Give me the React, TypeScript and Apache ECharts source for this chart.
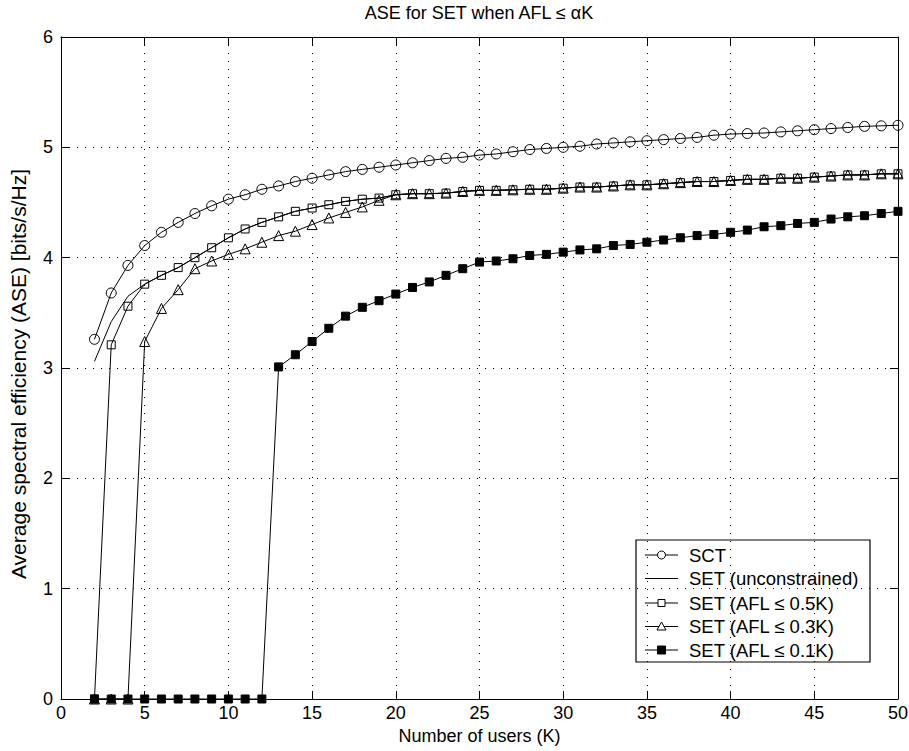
import React, { useEffect, useRef } from 'react';
import * as echarts from 'echarts';

const K = [2, 3, 4, 5, 6, 7, 8, 9, 10, 11, 12, 13, 14, 15, 16, 17, 18, 19, 20, 21, 22, 23, 24, 25, 26, 27, 28, 29, 30, 31, 32, 33, 34, 35, 36, 37, 38, 39, 40, 41, 42, 43, 44, 45, 46, 47, 48, 49, 50];

const sct = [3.26, 3.68, 3.93, 4.11, 4.23, 4.32, 4.40, 4.47, 4.53, 4.57, 4.62, 4.65, 4.69, 4.72, 4.75, 4.78, 4.80, 4.82, 4.84, 4.86, 4.88, 4.90, 4.91, 4.93, 4.94, 4.96, 4.98, 4.99, 5.00, 5.01, 5.03, 5.04, 5.05, 5.06, 5.07, 5.08, 5.09, 5.11, 5.12, 5.125, 5.13, 5.14, 5.15, 5.16, 5.17, 5.18, 5.19, 5.195, 5.20];

const setUnconstrained = [3.06, 3.42, 3.65, 3.76, 3.84, 3.91, 4.00, 4.09, 4.18, 4.26, 4.32, 4.37, 4.42, 4.45, 4.48, 4.51, 4.53, 4.54, 4.57, 4.58, 4.58, 4.585, 4.60, 4.61, 4.61, 4.615, 4.62, 4.62, 4.63, 4.64, 4.64, 4.65, 4.66, 4.66, 4.67, 4.68, 4.69, 4.69, 4.70, 4.71, 4.71, 4.72, 4.72, 4.73, 4.74, 4.75, 4.75, 4.76, 4.76];

const set05 = [0, 3.21, 3.56, 3.76, 3.84, 3.91, 4.00, 4.09, 4.18, 4.26, 4.32, 4.37, 4.42, 4.45, 4.48, 4.51, 4.53, 4.54, 4.57, 4.58, 4.58, 4.585, 4.60, 4.61, 4.61, 4.615, 4.62, 4.62, 4.63, 4.64, 4.64, 4.65, 4.66, 4.66, 4.67, 4.68, 4.69, 4.69, 4.70, 4.71, 4.71, 4.72, 4.72, 4.73, 4.74, 4.75, 4.75, 4.76, 4.76];

const set03 = [0, 0, 0, 3.24, 3.54, 3.71, 3.90, 3.97, 4.03, 4.08, 4.14, 4.20, 4.24, 4.30, 4.36, 4.41, 4.46, 4.52, 4.57, 4.58, 4.58, 4.585, 4.60, 4.61, 4.61, 4.615, 4.62, 4.62, 4.63, 4.64, 4.64, 4.65, 4.66, 4.66, 4.67, 4.68, 4.69, 4.69, 4.70, 4.71, 4.71, 4.72, 4.72, 4.73, 4.74, 4.75, 4.75, 4.76, 4.76];

const set01 = [0, 0, 0, 0, 0, 0, 0, 0, 0, 0, 0, 3.01, 3.12, 3.24, 3.36, 3.47, 3.55, 3.61, 3.67, 3.73, 3.78, 3.84, 3.90, 3.96, 3.97, 3.99, 4.02, 4.03, 4.05, 4.07, 4.08, 4.11, 4.12, 4.14, 4.16, 4.18, 4.20, 4.21, 4.23, 4.25, 4.28, 4.29, 4.31, 4.32, 4.35, 4.37, 4.38, 4.40, 4.42];

const seriesNames = ['SCT', 'SET (unconstrained)', 'SET (AFL ≤ 0.5K)', 'SET (AFL ≤ 0.3K)', 'SET (AFL ≤ 0.1K)'];
const titleText = 'ASE for SET when AFL ≤ αK';
const xName = 'Number of users (K)';
const yName = 'Average spectral efficiency (ASE) [bits/s/Hz]';

const FONT = '"Liberation Sans", Arial, Helvetica, sans-serif';
const FS = 18;
const LFS = 18.5;
const YFS = 21;

const pairs = (arr: number[]) => K.map((k, i) => [k, arr[i]]);

function legendGraphic() {
  const left = 636, top = 540, w = 234, h = 122;
  const rowY = [555, 578.5, 603, 626.5, 650];
  const x1 = 645, x2 = 678, cx = 661.5, tx = 689;
  const children: any[] = [
    { type: 'rect', shape: { x: left, y: top, width: w, height: h }, style: { fill: '#fff', stroke: '#000', lineWidth: 1.2 } },
  ];
  rowY.forEach((y, i) => {
    children.push({ type: 'line', shape: { x1, y1: y, x2, y2: y }, style: { stroke: '#000', lineWidth: 1 } });
    if (i === 0) children.push({ type: 'circle', shape: { cx, cy: y, r: 4 }, style: { fill: '#fff', stroke: '#000', lineWidth: 1 } });
    if (i === 2) children.push({ type: 'rect', shape: { x: cx - 3.5, y: y - 3.5, width: 7, height: 7 }, style: { fill: '#fff', stroke: '#000', lineWidth: 1 } });
    if (i === 3) children.push({ type: 'polygon', shape: { points: [[cx, y - 4.5], [cx + 4.5, y + 3.5], [cx - 4.5, y + 3.5]] }, style: { fill: '#fff', stroke: '#000', lineWidth: 1 } });
    if (i === 4) children.push({ type: 'rect', shape: { x: cx - 4, y: y - 4, width: 8, height: 8 }, style: { fill: '#000', stroke: '#000', lineWidth: 1 } });
    children.push({ type: 'text', x: tx, y, style: { text: seriesNames[i], font: `${LFS}px ${FONT}`, fill: '#000', textAlign: 'left', textVerticalAlign: 'middle' } });
  });
  return { type: 'group', z: 100, children };
}

export default function App() {
  const ref = useRef<HTMLDivElement>(null);
  useEffect(() => {
    document.body.style.margin = '0';
    const chart = echarts.init(ref.current!, null, { renderer: 'svg' });
    const axisBase = {
      type: 'value' as const,
      axisLine: { show: true, onZero: false, lineStyle: { color: '#000', width: 1 } },
      axisTick: { show: true, inside: true, length: 8, lineStyle: { color: '#000' } },
    };
    const dotted = { show: true, lineStyle: { color: '#000', type: [1, 7], width: 1 } };
    const option: any = {
      animation: false,
      backgroundColor: '#fff',
      textStyle: { fontFamily: FONT },
      grid: { left: 61, right: 11, top: 37, bottom: 52, containLabel: false, outerBoundsMode: 'none' },
      graphic: [
        { type: 'text', x: 479, y: 13, style: { text: titleText, font: `${FS}px ${FONT}`, fill: '#000', textAlign: 'center', textVerticalAlign: 'middle' } },
        legendGraphic(),
      ],
      xAxis: [
        {
          ...axisBase, min: 0, max: 50, interval: 5, position: 'bottom',
          name: xName, nameLocation: 'middle', nameGap: 27,
          nameTextStyle: { fontSize: FS, color: '#000', fontFamily: FONT },
          axisLabel: { fontSize: FS, color: '#000', margin: 5, fontFamily: FONT },
          splitLine: dotted,
        },
        { ...axisBase, min: 0, max: 50, interval: 5, position: 'top', axisLabel: { show: false }, splitLine: { show: false } },
      ],
      yAxis: [
        {
          ...axisBase, min: 0, max: 6, interval: 1, position: 'left',
          name: yName, nameLocation: 'middle', nameGap: 32, nameRotate: 90,
          nameTextStyle: { fontSize: YFS, color: '#000', fontFamily: FONT, padding: [0, 12, 0, 0] },
          axisLabel: { fontSize: FS, color: '#000', margin: 8, fontFamily: FONT },
          splitLine: dotted,
        },
        { ...axisBase, min: 0, max: 6, interval: 1, position: 'right', axisLabel: { show: false }, splitLine: { show: false } },
      ],
      series: [
        {
          name: seriesNames[0], type: 'line', data: pairs(sct), symbol: 'circle', symbolSize: 10,
          lineStyle: { color: '#000', width: 1 }, itemStyle: { color: 'transparent', borderColor: '#000', borderWidth: 1 },
        },
        {
          name: seriesNames[1], type: 'line', data: pairs(setUnconstrained), symbol: 'none', showSymbol: false,
          lineStyle: { color: '#000', width: 1 }, itemStyle: { color: '#000' },
        },
        {
          name: seriesNames[2], type: 'line', data: pairs(set05), symbol: 'rect', symbolSize: 8,
          lineStyle: { color: '#000', width: 1 }, itemStyle: { color: 'transparent', borderColor: '#000', borderWidth: 1 },
        },
        {
          name: seriesNames[3], type: 'line', data: pairs(set03), symbol: 'triangle', symbolSize: 10,
          lineStyle: { color: '#000', width: 1 }, itemStyle: { color: 'transparent', borderColor: '#000', borderWidth: 1 },
        },
        {
          name: seriesNames[4], type: 'line', data: pairs(set01), symbol: 'rect', symbolSize: 8,
          lineStyle: { color: '#000', width: 1 }, itemStyle: { color: '#000', borderColor: '#000', borderWidth: 1 },
        },
      ],
    };
    chart.setOption(option);
    return () => chart.dispose();
  }, []);
  return <div ref={ref} style={{ width: 909, height: 751 }} />;
}
